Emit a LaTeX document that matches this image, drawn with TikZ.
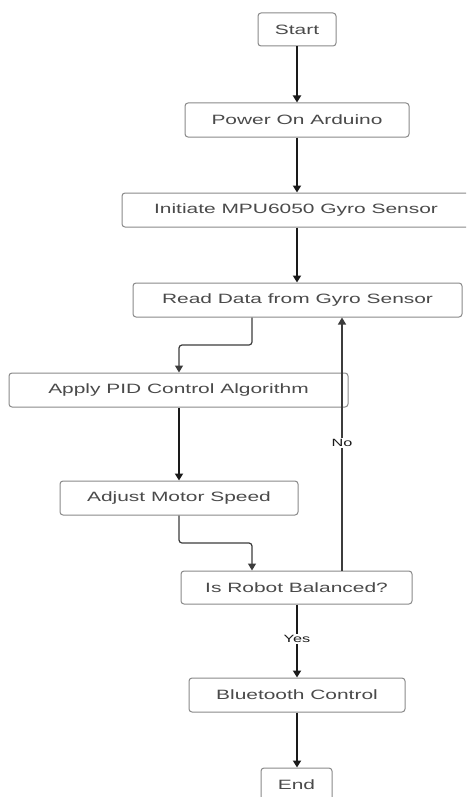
\documentclass[tikz,border=0pt]{standalone}
\usepackage{fontspec}
\newfontfamily\flowfont[FakeStretch=1.55]{Liberation Sans}
\usetikzlibrary{arrows.meta}
\definecolor{boxline}{HTML}{8A8A8A}
\definecolor{boxtext}{HTML}{4A4A4A}
\definecolor{linecol}{HTML}{1A1A1A}
\begin{document}
\begin{tikzpicture}[x=1pt,y=-1pt,
  flowbox/.style={draw=boxline, line width=1pt, rounded corners=3pt, fill=white,
    text=boxtext, font=\flowfont\fontsize{13.5}{16}\selectfont, inner sep=0pt,
    minimum height=34pt, anchor=center},
  mainarrow/.style={draw=linecol, line width=1.8pt, -{Triangle[width=8pt,length=7pt]}},
  elbowarrow/.style={draw=linecol!85!white, line width=1.2pt, rounded corners=3pt, -{Triangle[width=8pt,length=7pt]}},
  lbl/.style={fill=white, text=linecol, font=\flowfont\fontsize{10.5}{12}\selectfont, inner sep=1.5pt}
]
\useasboundingbox (0,0) rectangle (466,797);
\clip (0,0) rectangle (466,797);
\fill[white] (0,0) rectangle (466,797);

\node[flowbox, minimum width=78pt, minimum height=33pt] (start) at (297,29.5) {Start};
\node[flowbox, minimum width=224pt] (power) at (297,120) {Power On Arduino};
\node[flowbox, minimum width=348pt] (init) at (296,210) {Initiate MPU6050 Gyro Sensor};
\node[flowbox, minimum width=329pt] (read) at (297.5,300) {Read Data from Gyro Sensor};
\node[flowbox, minimum width=339pt] (apply) at (178.5,390) {Apply PID Control Algorithm};
\node[flowbox, minimum width=238pt] (adjust) at (179,498) {Adjust Motor Speed};
\node[flowbox, minimum width=231pt, minimum height=33pt] (robot) at (296.5,587.5) {Is Robot Balanced?};
\node[flowbox, minimum width=216pt] (bt) at (297,695) {Bluetooth Control};
\node[flowbox, minimum width=71pt, minimum height=33pt] (end) at (296.5,784.5) {End};

\coordinate (r1) at (252,345);
\coordinate (r2) at (179,345);
\coordinate (a1) at (179,543);
\coordinate (a2) at (252,543);

\draw[mainarrow] (start.south) -- (power.north);
\draw[mainarrow] (power.south) -- (init.north -| power.south);
\draw[mainarrow] (init.south -| power.south) -- (read.north -| power.south);
\draw[elbowarrow] (read.south -| r1) -- (r1) -- (r2) -- (apply.north -| r2);
\draw[mainarrow] (apply.south -| r2) -- (adjust.north -| r2);
\draw[elbowarrow] (adjust.south -| a1) -- (a1) -- (a2) -- (robot.north -| a2);
\coordinate (nox) at (342,443);
\draw[elbowarrow] (robot.north -| nox) -- (read.south -| nox);
\node[lbl] (no) at (nox) {No};
\draw[mainarrow] (robot.south -| bt.north) -- (bt.north);
\node[lbl] (yes) at (297,639) {Yes};
\draw[mainarrow] (bt.south) -- (end.north -| bt.south);
\end{tikzpicture}
\end{document}
